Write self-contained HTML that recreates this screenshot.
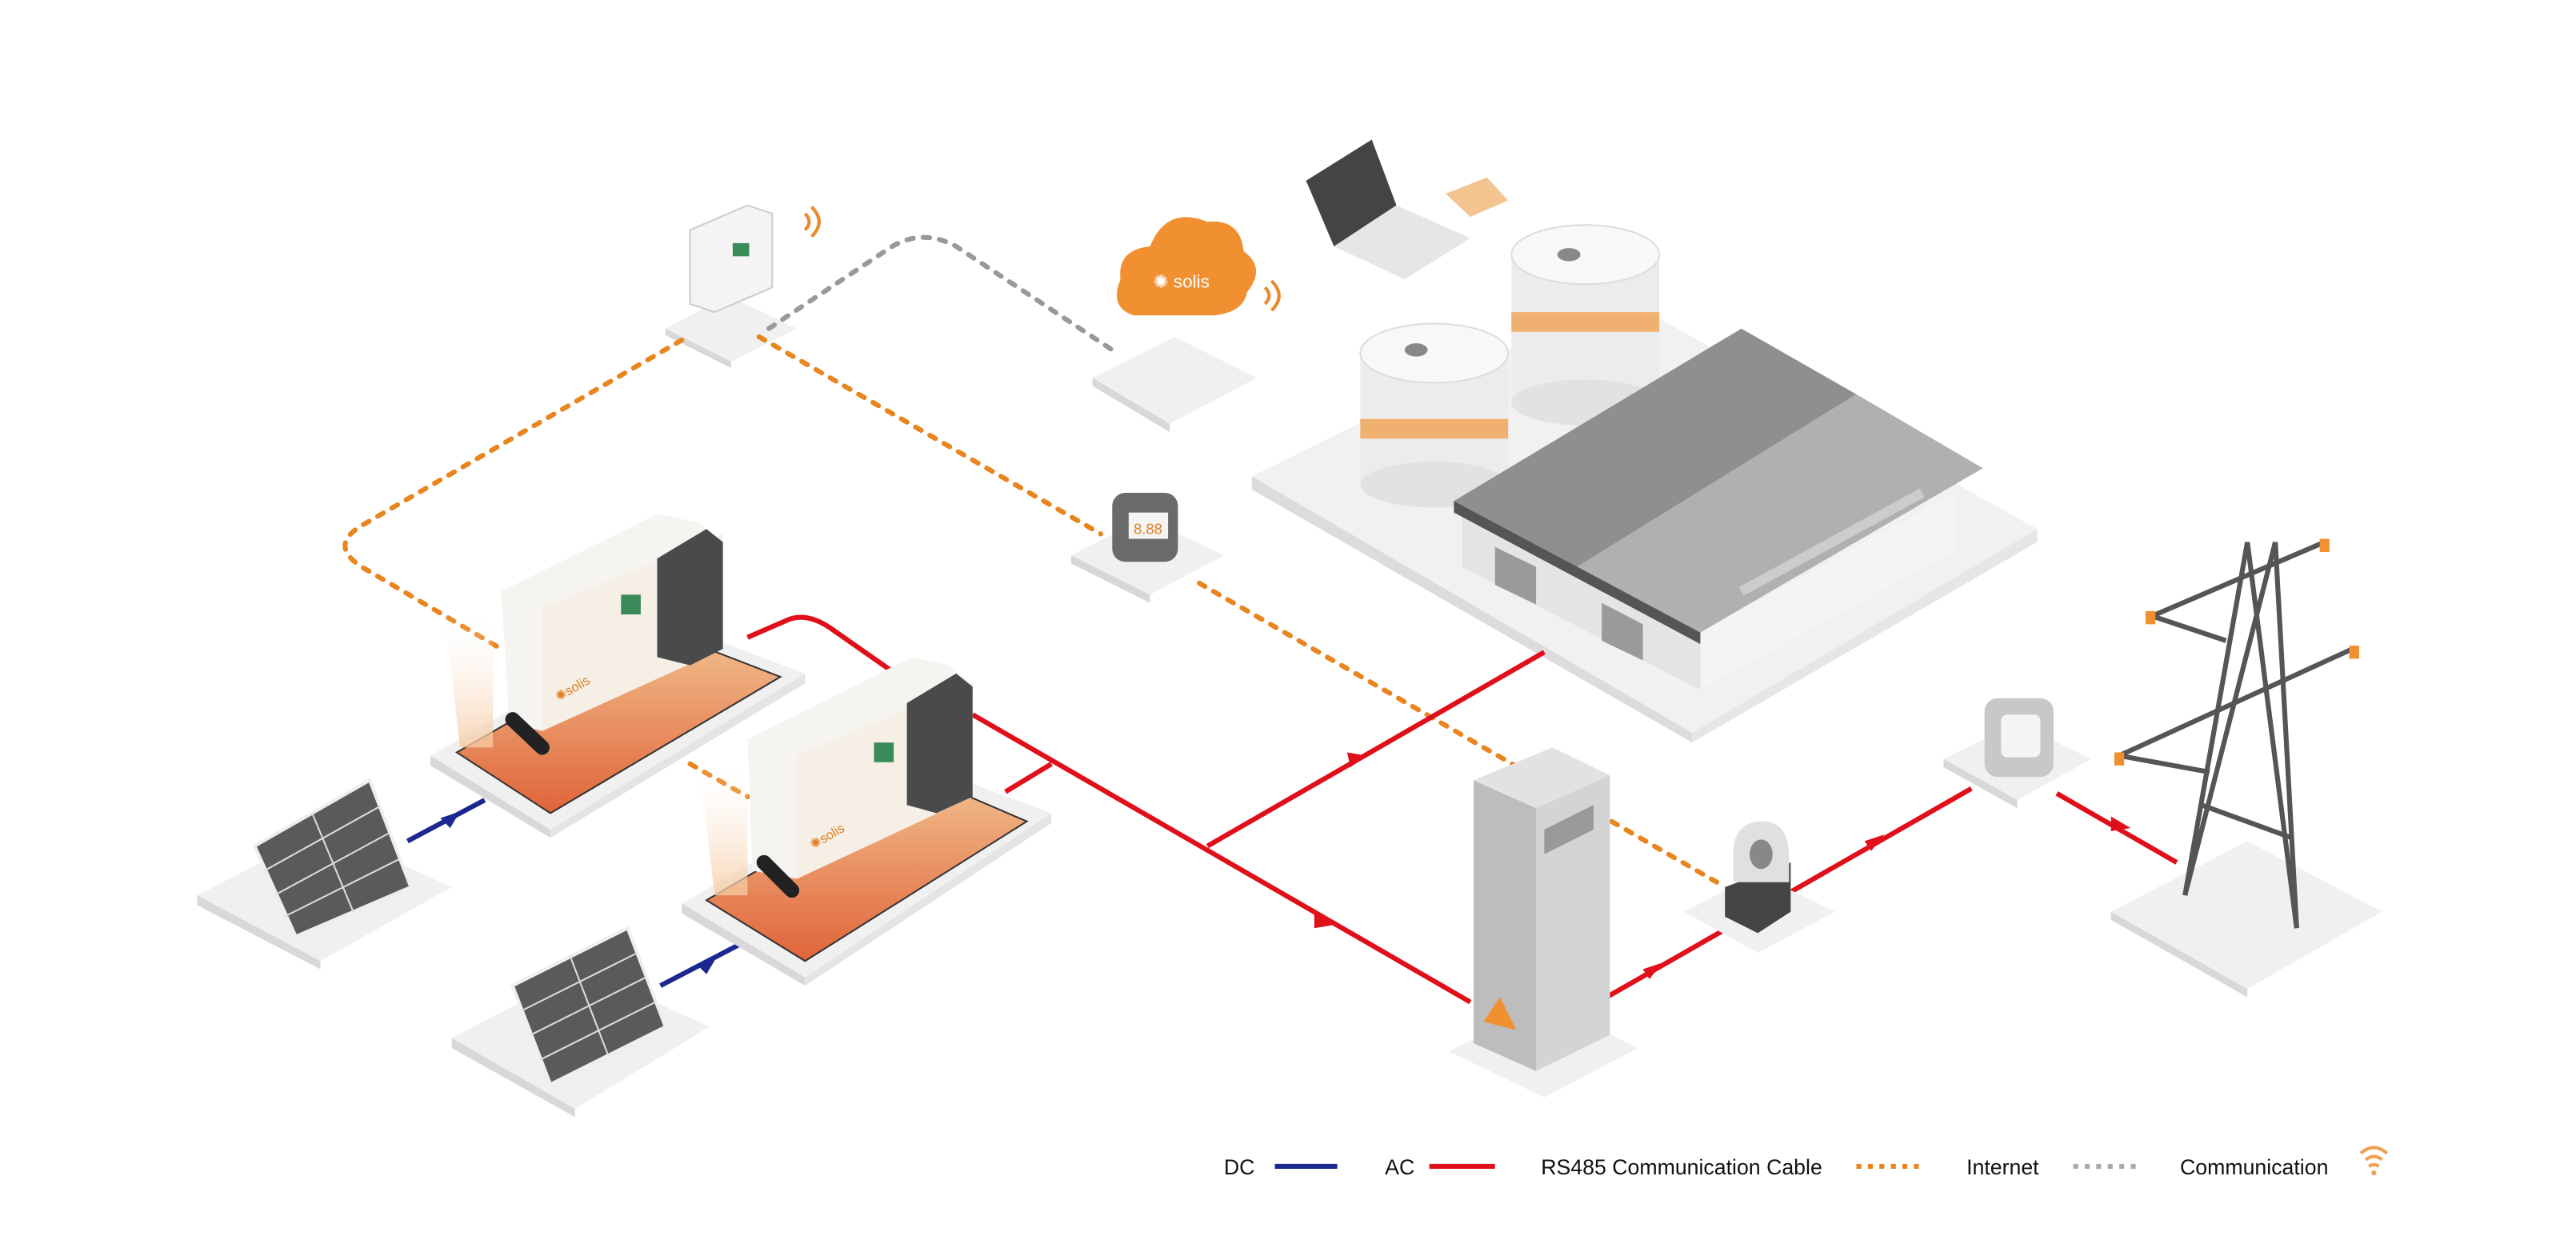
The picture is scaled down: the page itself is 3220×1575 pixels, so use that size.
<!DOCTYPE html>
<html><head><meta charset="utf-8"><style>
html,body{margin:0;padding:0;background:#fff;}
svg{display:block}
text{font-family:"Liberation Sans",sans-serif;}
</style></head><body>
<svg width="3220" height="1575" viewBox="0 0 1568 767" xmlns="http://www.w3.org/2000/svg">
<defs>
<linearGradient id="og" x1="0" y1="0" x2="0" y2="1"><stop offset="0" stop-color="#f2c08e"/><stop offset="1" stop-color="#e0643a"/></linearGradient>
<linearGradient id="glow" x1="0" y1="0" x2="0" y2="1"><stop offset="0" stop-color="#fff" stop-opacity="0"/><stop offset="1" stop-color="#f5c9a0" stop-opacity="0.8"/></linearGradient>
<linearGradient id="roof" x1="0" y1="0" x2="1" y2="1"><stop offset="0" stop-color="#a8a8a8"/><stop offset="1" stop-color="#8a8a8a"/></linearGradient>
</defs>

<!-- Factory platform -->
<polygon points="762,290 985,180 1240,322 1030,446" fill="#f1f1f1"/>
<polygon points="762,290 1030,446 1030,452 762,298" fill="#dcdcdc"/>
<polygon points="1030,446 1240,322 1240,330 1030,452" fill="#e6e6e6"/>
<!-- tanks -->
<g>
<rect x="920" y="155" width="90" height="90" fill="#ececec"/>
<ellipse cx="965" cy="245" rx="45" ry="14" fill="#e2e2e2"/>
<rect x="920" y="190" width="90" height="12" fill="#f0b070"/>
<ellipse cx="965" cy="155" rx="45" ry="18" fill="#f8f8f8" stroke="#ddd"/>
<ellipse cx="955" cy="155" rx="7" ry="4" fill="#888"/>
<rect x="828" y="215" width="90" height="80" fill="#ececec"/>
<ellipse cx="873" cy="295" rx="45" ry="14" fill="#e2e2e2"/>
<rect x="828" y="255" width="90" height="12" fill="#f0b070"/>
<ellipse cx="873" cy="215" rx="45" ry="18" fill="#f8f8f8" stroke="#ddd"/>
<ellipse cx="862" cy="213" rx="7" ry="4" fill="#888"/>
</g>
<!-- building -->
<polygon points="890,312 1035,385 1035,420 890,345" fill="#e4e4e4"/>
<polygon points="1035,385 1190,300 1190,335 1035,420" fill="#f4f4f4"/>
<polygon points="885,305 1060,200 1130,240 960,345" fill="#8f8f8f"/>
<polygon points="960,345 1130,240 1207,285 1035,385" fill="#b0b0b0"/>
<polygon points="885,305 1035,385 1035,392 885,312" fill="#555"/>
<polygon points="910,333 935,345 935,368 910,356" fill="#9a9a9a"/>
<polygon points="975,367 1000,380 1000,402 975,390" fill="#9a9a9a"/>
<line x1="1060" y1="360" x2="1170" y2="300" stroke="#ccc" stroke-width="6"/>

<!-- Router top-left -->
<polygon points="405,200 443,180 485,200 445,220" fill="#f0f0f0"/>
<polygon points="405,200 445,220 445,224 405,204" fill="#d8d8d8"/>
<polygon points="420,140 455,125 470,130 470,175 435,190 420,185" fill="#f4f4f4" stroke="#ccc"/>
<rect x="446" y="148" width="10" height="8" fill="#3a8a5a"/>
<g fill="none" stroke="#e88a2a" stroke-width="2">
<path d="M490,130 q5,5 0,10"/><path d="M494,126 q9,9 0,18"/>
<path d="M770,175 q5,5 0,10"/><path d="M774,171 q9,9 0,18"/>
</g>
<!-- cloud -->
<path d="M690,192 q-15,-5 -8,-22 q-2,-18 18,-20 q10,-25 35,-15 q20,-2 22,18 q14,10 2,25 q-2,12 -20,14 z" fill="#f09030"/>
<text x="702" y="175" font-size="11" fill="#fff">✺ solis</text>
<polygon points="665,230 715,205 765,230 712,258" fill="#f0f0f0"/>
<polygon points="665,230 712,258 712,263 665,235" fill="#d8d8d8"/>
<!-- laptop -->
<polygon points="795,110 835,85 850,125 812,150" fill="#444"/>
<polygon points="812,150 850,125 895,145 855,170" fill="#e6e6e6"/>
<polygon points="880,118 905,108 918,122 895,132" fill="#f3c48f"/>
<!-- meter 1 -->
<polygon points="652,338 697,315 745,338 700,362" fill="#f0f0f0"/>
<polygon points="652,338 700,362 700,367 652,343" fill="#d8d8d8"/>
<rect x="677" y="300" width="40" height="42" rx="8" fill="#6a6a6a"/>
<rect x="687" y="312" width="24" height="16" fill="#f4f4f4"/>
<text x="690" y="325" font-size="9" fill="#e08020">8.88</text>

<!-- Cables -->
<g fill="none" stroke="#e8851f" stroke-width="3" stroke-dasharray="4,6" stroke-linecap="round">
<path d="M415,207 L220,320 Q200,332 220,345 L305,395"/>
<path d="M462,205 L670,325"/>
<path d="M730,355 L1045,537"/>
<path d="M420,465 L455,485"/>
</g>
<path d="M468,200 L540,152 Q560,138 582,150 L680,215" fill="none" stroke="#999" stroke-width="3" stroke-dasharray="4,6" stroke-linecap="round"/>

<g fill="none" stroke="#e0101a" stroke-width="3">
<path d="M455,388 L478,378 Q490,372 505,382 L545,410"/>
<path d="M592,435 L895,610"/>
<path d="M735,515 L940,397"/>
<path d="M612,482 L640,465"/>
<path d="M978,607 L1200,480"/>
<path d="M1252,483 L1325,525"/>
</g>
<g fill="#e0101a">
<polygon points="820,458 832,460 822,467"/>
<polygon points="800,556 812,563 800,565"/>
<polygon points="1000,590 1012,586 1004,596"/>
<polygon points="1135,512 1147,508 1139,518"/>
<polygon points="1285,497 1297,504 1285,506"/>
</g>
<g stroke="#1a2890" stroke-width="3"><line x1="248" y1="512" x2="295" y2="487"/><line x1="402" y1="600" x2="450" y2="575"/></g>
<g fill="#1a2890"><polygon points="268,498 280,494 274,504"/><polygon points="424,587 436,583 430,593"/></g>

<!-- Inverter 1 -->
<polygon points="262,460 405,378 490,410 335,505" fill="#f0f0f0"/>
<polygon points="262,460 335,505 335,510 262,466" fill="#d8d8d8"/>
<polygon points="335,505 490,410 490,416 335,510" fill="#e4e4e4"/>
<polygon points="278,458 405,385 475,412 335,495" fill="url(#og)" stroke="#333"/>
<polygon points="270,370 300,380 300,455 280,455" fill="url(#glow)"/>
<polygon points="305,360 400,313 425,318 440,330 440,395 330,445 310,440" fill="#f6f4f0"/>
<polygon points="330,370 440,325 440,395 330,445" fill="#f5efe6"/>
<polygon points="400,340 430,322 440,330 440,395 420,405 400,400" fill="#4a4a4a"/>
<rect x="378" y="362" width="12" height="12" fill="#3a8a5a"/>
<text x="340" y="427" font-size="8" fill="#e08020" transform="rotate(-30 340 427)">✺solis</text>
<path d="M312,438 L330,455" stroke="#222" stroke-width="9" stroke-linecap="round"/>

<!-- Inverter 2 -->
<polygon points="415,550 560,465 640,495 490,595" fill="#f0f0f0"/>
<polygon points="415,550 490,595 490,600 415,556" fill="#d8d8d8"/>
<polygon points="490,595 640,495 640,501 490,600" fill="#e4e4e4"/>
<polygon points="430,548 560,472 625,500 490,585" fill="url(#og)" stroke="#333"/>
<polygon points="425,460 455,470 455,545 435,545" fill="url(#glow)"/>
<polygon points="455,450 555,400 578,405 592,418 592,485 485,535 458,530" fill="#f6f4f0"/>
<polygon points="485,460 592,415 592,485 485,535" fill="#f5efe6"/>
<polygon points="552,428 582,410 592,418 592,485 570,495 552,490" fill="#4a4a4a"/>
<rect x="532" y="452" width="12" height="12" fill="#3a8a5a"/>
<text x="495" y="517" font-size="8" fill="#e08020" transform="rotate(-30 495 517)">✺solis</text>
<path d="M465,525 L482,542" stroke="#222" stroke-width="9" stroke-linecap="round"/>

<!-- Solar 1 -->
<polygon points="120,545 198,505 275,540 195,585" fill="#f0f0f0"/>
<polygon points="120,545 195,585 195,590 120,551" fill="#d8d8d8"/>
<polygon points="155,515 225,475 250,540 180,570" fill="#5a5a5a" stroke="#eee" stroke-width="2"/>
<g stroke="#ddd" stroke-width="1"><line x1="190" y1="495" x2="215" y2="555"/><line x1="167" y1="545" x2="237" y2="507"/><line x1="161" y1="530" x2="231" y2="491"/><line x1="173" y1="558" x2="243" y2="523"/></g>
<!-- Solar 2 -->
<polygon points="275,632 355,590 432,625 350,675" fill="#f0f0f0"/>
<polygon points="275,632 350,675 350,680 275,638" fill="#d8d8d8"/>
<polygon points="312,600 382,565 405,625 335,660" fill="#5a5a5a" stroke="#eee" stroke-width="2"/>
<g stroke="#ddd" stroke-width="1"><line x1="347" y1="582" x2="370" y2="642"/><line x1="323" y1="630" x2="393" y2="595"/><line x1="318" y1="615" x2="388" y2="580"/><line x1="329" y1="645" x2="399" y2="610"/></g>

<!-- Cabinet -->
<polygon points="882,640 940,610 997,638 940,668" fill="#f0f0f0"/>
<polygon points="897,475 945,455 980,472 980,630 935,652 897,635" fill="#d4d4d4"/>
<polygon points="897,475 935,492 935,652 897,635" fill="#bdbdbd"/>
<polygon points="897,475 945,455 980,472 935,492" fill="#e2e2e2"/>
<polygon points="940,505 970,490 970,505 940,520" fill="#999"/>
<polygon points="903,622 913,607 923,627" fill="#f09030"/>
<!-- CT sensor -->
<polygon points="1025,555 1070,532 1117,555 1070,580" fill="#f0f0f0"/>
<polygon points="1050,540 1090,525 1090,555 1070,568 1050,558" fill="#444"/>
<path d="M1055,520 q0,-20 18,-20 q16,0 16,22 l0,15 -34,0 z" fill="#e0e0e0"/>
<ellipse cx="1072" cy="520" rx="7" ry="9" fill="#888"/>
<!-- Meter 2 -->
<polygon points="1183,462 1228,440 1273,462 1228,487" fill="#f0f0f0"/>
<polygon points="1183,462 1228,487 1228,492 1183,467" fill="#d8d8d8"/>
<rect x="1208" y="425" width="42" height="48" rx="8" fill="#c8c8c8"/>
<rect x="1218" y="435" width="24" height="26" rx="4" fill="#f4f4f4"/>
<!-- Tower -->
<polygon points="1285,555 1368,512 1450,555 1368,602" fill="#f0f0f0"/>
<polygon points="1285,555 1368,602 1368,607 1285,560" fill="#d8d8d8"/>
<g stroke="#555" stroke-width="3" fill="none">
<line x1="1330" y1="545" x2="1368" y2="330"/><line x1="1398" y1="565" x2="1385" y2="330"/>
<line x1="1368" y1="330" x2="1398" y2="565"/><line x1="1385" y1="330" x2="1330" y2="545"/>
<line x1="1310" y1="375" x2="1415" y2="330"/><line x1="1290" y1="460" x2="1432" y2="395"/>
<line x1="1290" y1="460" x2="1345" y2="470"/><line x1="1310" y1="375" x2="1355" y2="390"/>
<line x1="1340" y1="490" x2="1395" y2="510"/>
</g>
<g fill="#f09030"><rect x="1306" y="372" width="6" height="8"/><rect x="1412" y="328" width="6" height="8"/><rect x="1287" y="458" width="6" height="8"/><rect x="1430" y="393" width="6" height="8"/></g>

<!-- Legend -->
<g font-size="13" fill="#111">
<text x="745" y="715">DC</text>
<text x="843" y="715">AC</text>
<text x="938" y="715">RS485 Communication Cable</text>
<text x="1197" y="715">Internet</text>
<text x="1327" y="715">Communication</text>
</g>
<line x1="776" y1="710" x2="814" y2="710" stroke="#1a2890" stroke-width="3"/>
<line x1="870" y1="710" x2="910" y2="710" stroke="#e0101a" stroke-width="3"/>
<line x1="1130" y1="710" x2="1168" y2="710" stroke="#e8851f" stroke-width="3" stroke-dasharray="3,4"/>
<line x1="1262" y1="710" x2="1300" y2="710" stroke="#aaa" stroke-width="3" stroke-dasharray="3,4"/>
<g fill="none" stroke="#f0a050" stroke-width="2"><path d="M1440,706 q5,-4 10,0"/><path d="M1437,702 q8,-7 16,0"/><path d="M1442,710 q3,-2 6,0"/></g>
<circle cx="1445" cy="714" r="1.5" fill="#f0a050"/>
</svg>
</body></html>
